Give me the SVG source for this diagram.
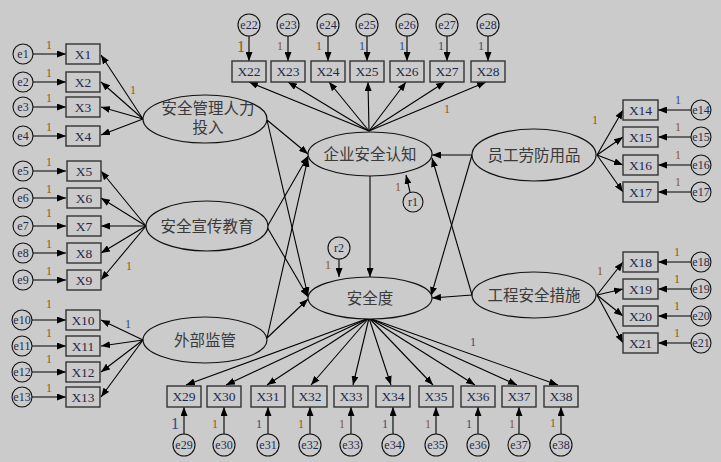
<svg xmlns="http://www.w3.org/2000/svg" width="721" height="462" viewBox="0 0 721 462">
<defs>
<marker id="ah" markerUnits="userSpaceOnUse" markerWidth="9" markerHeight="7" refX="9" refY="3.5" orient="auto"><path d="M0,0 L9,3.5 L0,7 z" fill="#000"/></marker>
<style>
.bx{fill:#cbcbcb;stroke:#333;stroke-width:1.4}
.ci{fill:#cbcbcb;stroke:#111;stroke-width:1.1}
.el{fill:#cbcbcb;stroke:#111;stroke-width:1.2}
.ln{stroke:#000;stroke-width:1.1;fill:none;marker-end:url(#ah)}
.t{font-family:"Liberation Serif","Noto Sans CJK SC",serif;font-size:13.5px;fill:#1e2a4a;text-anchor:middle}
.e{font-family:"Liberation Serif",serif;font-size:12px;fill:#1e2a4a;text-anchor:middle}
.c{font-family:"Liberation Serif","Noto Sans CJK SC",serif;font-size:15.5px;fill:#3a3a3a;text-anchor:middle}
.o{font-family:"Liberation Serif",serif;font-size:12px;fill:#8b5a14;text-anchor:middle}
.b{font-family:"Liberation Serif",serif;font-size:12px;fill:#2a4a8a;text-anchor:middle}
</style>
</defs>
<rect width="721" height="462" fill="#cbcbcb"/>
<g id="connectors">
<line class="ln" x1="33" y1="54" x2="66" y2="54"/><line class="ln" x1="33" y1="82" x2="66" y2="82"/><line class="ln" x1="33" y1="107" x2="66" y2="107"/><line class="ln" x1="33" y1="136" x2="66" y2="136"/>
<line class="ln" x1="33" y1="171" x2="66" y2="171"/><line class="ln" x1="33" y1="198" x2="66" y2="198"/><line class="ln" x1="33" y1="226" x2="66" y2="226"/><line class="ln" x1="33" y1="253" x2="66" y2="253"/><line class="ln" x1="33" y1="280" x2="66" y2="280"/>
<line class="ln" x1="32" y1="320" x2="66" y2="320"/><line class="ln" x1="32" y1="346" x2="66" y2="346"/><line class="ln" x1="32" y1="372" x2="66" y2="372"/><line class="ln" x1="32" y1="397" x2="66" y2="397"/>
<line class="ln" x1="143" y1="119" x2="101" y2="55"/><line class="ln" x1="143" y1="119" x2="101" y2="82"/><line class="ln" x1="143" y1="119" x2="101" y2="107"/><line class="ln" x1="143" y1="119" x2="101" y2="135"/>
<line class="ln" x1="146" y1="226" x2="101" y2="171"/><line class="ln" x1="146" y1="226" x2="101" y2="198"/><line class="ln" x1="146" y1="226" x2="101" y2="226"/><line class="ln" x1="146" y1="226" x2="101" y2="253"/><line class="ln" x1="146" y1="226" x2="101" y2="280"/>
<line class="ln" x1="143" y1="340" x2="101" y2="320"/><line class="ln" x1="143" y1="340" x2="101" y2="346"/><line class="ln" x1="143" y1="340" x2="101" y2="372"/><line class="ln" x1="143" y1="340" x2="101" y2="397"/>
<line class="ln" x1="249" y1="36" x2="249" y2="61"/><line class="ln" x1="288" y1="36" x2="288" y2="61"/><line class="ln" x1="328" y1="36" x2="328" y2="61"/><line class="ln" x1="367" y1="36" x2="367" y2="61"/><line class="ln" x1="407" y1="36" x2="407" y2="61"/><line class="ln" x1="447" y1="36" x2="447" y2="61"/><line class="ln" x1="488" y1="36" x2="488" y2="61"/>
<line class="ln" x1="369" y1="131" x2="249" y2="82"/><line class="ln" x1="369" y1="131" x2="288" y2="82"/><line class="ln" x1="369" y1="131" x2="329" y2="82"/><line class="ln" x1="369" y1="131" x2="368" y2="82"/><line class="ln" x1="369" y1="131" x2="406" y2="82"/><line class="ln" x1="369" y1="131" x2="445" y2="82"/><line class="ln" x1="369" y1="131" x2="486" y2="82"/>
<line class="ln" x1="691" y1="110" x2="658" y2="110"/><line class="ln" x1="691" y1="137" x2="658" y2="137"/><line class="ln" x1="691" y1="165" x2="658" y2="165"/><line class="ln" x1="691" y1="192" x2="658" y2="192"/>
<line class="ln" x1="691" y1="262" x2="658" y2="262"/><line class="ln" x1="691" y1="289" x2="658" y2="289"/><line class="ln" x1="691" y1="316" x2="658" y2="316"/><line class="ln" x1="691" y1="343" x2="658" y2="343"/>
<line class="ln" x1="597" y1="155" x2="623" y2="110"/><line class="ln" x1="597" y1="155" x2="623" y2="137"/><line class="ln" x1="597" y1="155" x2="623" y2="165"/><line class="ln" x1="597" y1="155" x2="623" y2="192"/>
<line class="ln" x1="597" y1="295" x2="623" y2="262"/><line class="ln" x1="597" y1="295" x2="623" y2="289"/><line class="ln" x1="597" y1="295" x2="623" y2="316"/><line class="ln" x1="597" y1="295" x2="623" y2="343"/>
<line class="ln" x1="184" y1="434" x2="184" y2="407"/><line class="ln" x1="224" y1="434" x2="224" y2="407"/><line class="ln" x1="268" y1="434" x2="268" y2="407"/><line class="ln" x1="310" y1="434" x2="310" y2="407"/><line class="ln" x1="351" y1="434" x2="351" y2="407"/><line class="ln" x1="393" y1="434" x2="393" y2="407"/><line class="ln" x1="436" y1="434" x2="436" y2="407"/><line class="ln" x1="478" y1="434" x2="478" y2="407"/><line class="ln" x1="519" y1="434" x2="519" y2="407"/><line class="ln" x1="561" y1="434" x2="561" y2="407"/>
<line class="ln" x1="369" y1="318" x2="186" y2="385"/><line class="ln" x1="369" y1="318" x2="226" y2="385"/><line class="ln" x1="369" y1="318" x2="267" y2="385"/><line class="ln" x1="369" y1="318" x2="311" y2="385"/><line class="ln" x1="369" y1="318" x2="353" y2="385"/><line class="ln" x1="369" y1="318" x2="391" y2="385"/><line class="ln" x1="369" y1="318" x2="433" y2="385"/><line class="ln" x1="369" y1="318" x2="475" y2="385"/><line class="ln" x1="369" y1="318" x2="517" y2="385"/><line class="ln" x1="369" y1="318" x2="558" y2="385"/>
<line class="ln" x1="267" y1="120" x2="308" y2="154"/><line class="ln" x1="267" y1="120" x2="308" y2="296"/>
<line class="ln" x1="267" y1="227" x2="308" y2="156"/><line class="ln" x1="267" y1="227" x2="308" y2="297"/>
<line class="ln" x1="267" y1="338" x2="308" y2="158"/><line class="ln" x1="267" y1="338" x2="308" y2="299"/>
<line class="ln" x1="472" y1="155" x2="432" y2="155"/><line class="ln" x1="472" y1="155" x2="431" y2="296"/>
<line class="ln" x1="472" y1="295" x2="432" y2="298"/><line class="ln" x1="472" y1="295" x2="432" y2="158"/>
<line class="ln" x1="370" y1="176" x2="370" y2="277"/>
<line class="ln" x1="410" y1="192" x2="406" y2="175"/>
<line class="ln" x1="339" y1="259" x2="339" y2="277"/>
</g>
<g id="labels1">
<text class="o" x="49" y="49">1</text><text class="o" x="49" y="77">1</text><text class="o" x="49" y="102">1</text><text class="o" x="49" y="131">1</text>
<text class="o" x="49" y="166">1</text><text class="o" x="49" y="193">1</text><text class="o" x="49" y="217">1</text><text class="o" x="49" y="248">1</text><text class="o" x="49" y="275">1</text>
<text class="o" x="49" y="308">1</text><text class="o" x="49" y="337">1</text><text class="o" x="49" y="363">1</text><text class="o" x="49" y="392">1</text>
<text class="o" x="133" y="94">1</text><text class="o" x="129" y="270">1</text><text class="b" x="128" y="328">1</text>
<text class="o" x="241" y="52" style="font-size:16px">1</text><text class="o" x="280" y="50">1</text><text class="o" x="319" y="50">1</text><text class="b" x="362" y="50">1</text><text class="b" x="402" y="50">1</text><text class="b" x="441" y="50">1</text><text class="b" x="481" y="50">1</text>
<text class="o" x="447" y="113">1</text>
<text class="b" x="678" y="104">1</text><text class="o" x="678" y="131">1</text><text class="o" x="678" y="159">1</text><text class="o" x="678" y="186">1</text>
<text class="o" x="677" y="256">1</text><text class="o" x="677" y="283">1</text><text class="o" x="677" y="310">1</text><text class="o" x="677" y="337">1</text>
<text class="o" x="595" y="124">1</text><text class="o" x="600" y="275">1</text><text class="b" x="473" y="346">1</text>
<text class="o" x="398" y="191">1</text><text class="o" x="328" y="269">1</text>
<text class="b" x="175" y="429" style="font-size:16px">1</text><text class="o" x="215" y="428">1</text><text class="b" x="259" y="428">1</text><text class="o" x="301" y="428">1</text><text class="o" x="342" y="428">1</text><text class="b" x="385" y="428">1</text><text class="o" x="428" y="428">1</text><text class="b" x="469" y="428">1</text><text class="o" x="512" y="428">1</text><text class="o" x="553" y="427">1</text>
</g>
<g id="F1"><ellipse class="el" cx="205" cy="119" rx="62" ry="24"/><text class="c" x="208" y="114">安全管理人力</text><text class="c" x="208" y="133">投入</text></g>
<g id="F2"><ellipse class="el" cx="207" cy="226" rx="61" ry="25"/><text class="c" x="207" y="232">安全宣传教育</text></g>
<g id="F3"><ellipse class="el" cx="205" cy="340" rx="62" ry="23"/><text class="c" x="205" y="346">外部监管</text></g>
<g id="F4"><ellipse class="el" cx="534" cy="155" rx="62" ry="26"/><text class="c" x="534" y="161">员工劳防用品</text></g>
<g id="F5"><ellipse class="el" cx="534" cy="295" rx="62" ry="23"/><text class="c" x="534" y="301">工程安全措施</text></g>
<g id="F6"><ellipse class="el" cx="370" cy="154" rx="62" ry="22"/><text class="c" x="370" y="160">企业安全认知</text></g>
<g id="F7"><ellipse class="el" cx="370" cy="298" rx="62" ry="21"/><text class="c" x="370" y="304">安全度</text></g>
<g id="r1"><circle class="ci" cx="413" cy="202" r="10"/><text class="e" x="413" y="206">r1</text></g>
<g id="r2"><circle class="ci" cx="339" cy="248" r="11"/><text class="e" x="339" y="252">r2</text></g>
<g id="left">
<g id="X1"><rect class="bx" x="66" y="44" width="34" height="20"/><text class="t" x="83" y="59">X1</text></g>
<g id="X2"><rect class="bx" x="66" y="72" width="34" height="20"/><text class="t" x="83" y="87">X2</text></g>
<g id="X3"><rect class="bx" x="66" y="97" width="34" height="20"/><text class="t" x="83" y="112">X3</text></g>
<g id="X4"><rect class="bx" x="66" y="126" width="34" height="20"/><text class="t" x="83" y="141">X4</text></g>
<g id="X5"><rect class="bx" x="67" y="161" width="34" height="20"/><text class="t" x="84" y="176">X5</text></g>
<g id="X6"><rect class="bx" x="67" y="188" width="34" height="20"/><text class="t" x="84" y="203">X6</text></g>
<g id="X7"><rect class="bx" x="67" y="216" width="34" height="20"/><text class="t" x="84" y="231">X7</text></g>
<g id="X8"><rect class="bx" x="67" y="243" width="34" height="20"/><text class="t" x="84" y="258">X8</text></g>
<g id="X9"><rect class="bx" x="67" y="270" width="34" height="20"/><text class="t" x="84" y="285">X9</text></g>
<g id="X10"><rect class="bx" x="66" y="310" width="34" height="20"/><text class="t" x="83" y="325">X10</text></g>
<g id="X11"><rect class="bx" x="66" y="336" width="34" height="20"/><text class="t" x="83" y="351">X11</text></g>
<g id="X12"><rect class="bx" x="66" y="362" width="34" height="20"/><text class="t" x="83" y="377">X12</text></g>
<g id="X13"><rect class="bx" x="66" y="387" width="34" height="20"/><text class="t" x="83" y="402">X13</text></g>
<g id="e1"><circle class="ci" cx="23" cy="54" r="10"/><text class="e" x="23" y="58">e1</text></g>
<g id="e2"><circle class="ci" cx="23" cy="82" r="10"/><text class="e" x="23" y="86">e2</text></g>
<g id="e3"><circle class="ci" cx="23" cy="107" r="10"/><text class="e" x="23" y="111">e3</text></g>
<g id="e4"><circle class="ci" cx="23" cy="136" r="10"/><text class="e" x="23" y="140">e4</text></g>
<g id="e5"><circle class="ci" cx="23" cy="171" r="10"/><text class="e" x="23" y="175">e5</text></g>
<g id="e6"><circle class="ci" cx="23" cy="198" r="10"/><text class="e" x="23" y="202">e6</text></g>
<g id="e7"><circle class="ci" cx="23" cy="226" r="10"/><text class="e" x="23" y="230">e7</text></g>
<g id="e8"><circle class="ci" cx="23" cy="253" r="10"/><text class="e" x="23" y="257">e8</text></g>
<g id="e9"><circle class="ci" cx="23" cy="280" r="10"/><text class="e" x="23" y="284">e9</text></g>
<g id="e10"><circle class="ci" cx="22" cy="320" r="10"/><text class="e" x="22" y="324">e10</text></g>
<g id="e11"><circle class="ci" cx="22" cy="346" r="10"/><text class="e" x="22" y="350">e11</text></g>
<g id="e12"><circle class="ci" cx="22" cy="372" r="10"/><text class="e" x="22" y="376">e12</text></g>
<g id="e13"><circle class="ci" cx="22" cy="397" r="10"/><text class="e" x="22" y="401">e13</text></g>
</g>
<g id="top">
<g id="X22"><rect class="bx" x="232" y="61" width="34" height="21"/><text class="t" x="249" y="76">X22</text></g>
<g id="X23"><rect class="bx" x="271" y="61" width="34" height="21"/><text class="t" x="288" y="76">X23</text></g>
<g id="X24"><rect class="bx" x="311" y="61" width="34" height="21"/><text class="t" x="328" y="76">X24</text></g>
<g id="X25"><rect class="bx" x="350" y="61" width="34" height="21"/><text class="t" x="367" y="76">X25</text></g>
<g id="X26"><rect class="bx" x="390" y="61" width="34" height="21"/><text class="t" x="407" y="76">X26</text></g>
<g id="X27"><rect class="bx" x="430" y="61" width="34" height="21"/><text class="t" x="447" y="76">X27</text></g>
<g id="X28"><rect class="bx" x="471" y="61" width="34" height="21"/><text class="t" x="488" y="76">X28</text></g>
<g id="e22"><circle class="ci" cx="249" cy="25" r="11"/><text class="e" x="249" y="29">e22</text></g>
<g id="e23"><circle class="ci" cx="288" cy="25" r="11"/><text class="e" x="288" y="29">e23</text></g>
<g id="e24"><circle class="ci" cx="328" cy="25" r="11"/><text class="e" x="328" y="29">e24</text></g>
<g id="e25"><circle class="ci" cx="367" cy="25" r="11"/><text class="e" x="367" y="29">e25</text></g>
<g id="e26"><circle class="ci" cx="407" cy="25" r="11"/><text class="e" x="407" y="29">e26</text></g>
<g id="e27"><circle class="ci" cx="447" cy="25" r="11"/><text class="e" x="447" y="29">e27</text></g>
<g id="e28"><circle class="ci" cx="488" cy="25" r="11"/><text class="e" x="488" y="29">e28</text></g>
</g>
<g id="right">
<g id="X14"><rect class="bx" x="623" y="100" width="35" height="20"/><text class="t" x="640.5" y="115">X14</text></g>
<g id="X15"><rect class="bx" x="623" y="127" width="35" height="20"/><text class="t" x="640.5" y="142">X15</text></g>
<g id="X16"><rect class="bx" x="623" y="155" width="35" height="20"/><text class="t" x="640.5" y="170">X16</text></g>
<g id="X17"><rect class="bx" x="623" y="182" width="35" height="20"/><text class="t" x="640.5" y="197">X17</text></g>
<g id="X18"><rect class="bx" x="623" y="252" width="35" height="20"/><text class="t" x="640.5" y="267">X18</text></g>
<g id="X19"><rect class="bx" x="623" y="279" width="35" height="20"/><text class="t" x="640.5" y="294">X19</text></g>
<g id="X20"><rect class="bx" x="623" y="306" width="35" height="20"/><text class="t" x="640.5" y="321">X20</text></g>
<g id="X21"><rect class="bx" x="623" y="333" width="35" height="20"/><text class="t" x="640.5" y="348">X21</text></g>
<g id="e14"><circle class="ci" cx="701" cy="110" r="10"/><text class="e" x="701" y="114">e14</text></g>
<g id="e15"><circle class="ci" cx="701" cy="137" r="10"/><text class="e" x="701" y="141">e15</text></g>
<g id="e16"><circle class="ci" cx="701" cy="165" r="10"/><text class="e" x="701" y="169">e16</text></g>
<g id="e17"><circle class="ci" cx="701" cy="192" r="10"/><text class="e" x="701" y="196">e17</text></g>
<g id="e18"><circle class="ci" cx="701" cy="262" r="10"/><text class="e" x="701" y="266">e18</text></g>
<g id="e19"><circle class="ci" cx="701" cy="289" r="10"/><text class="e" x="701" y="293">e19</text></g>
<g id="e20"><circle class="ci" cx="701" cy="316" r="10"/><text class="e" x="701" y="320">e20</text></g>
<g id="e21"><circle class="ci" cx="701" cy="343" r="10"/><text class="e" x="701" y="347">e21</text></g>
</g>
<g id="bottom">
<g id="X29"><rect class="bx" x="167" y="386" width="34" height="21"/><text class="t" x="184" y="401">X29</text></g>
<g id="X30"><rect class="bx" x="207" y="386" width="34" height="21"/><text class="t" x="224" y="401">X30</text></g>
<g id="X31"><rect class="bx" x="251" y="386" width="34" height="21"/><text class="t" x="268" y="401">X31</text></g>
<g id="X32"><rect class="bx" x="293" y="386" width="34" height="21"/><text class="t" x="310" y="401">X32</text></g>
<g id="X33"><rect class="bx" x="334" y="386" width="34" height="21"/><text class="t" x="351" y="401">X33</text></g>
<g id="X34"><rect class="bx" x="376" y="386" width="34" height="21"/><text class="t" x="393" y="401">X34</text></g>
<g id="X35"><rect class="bx" x="419" y="386" width="34" height="21"/><text class="t" x="436" y="401">X35</text></g>
<g id="X36"><rect class="bx" x="461" y="386" width="34" height="21"/><text class="t" x="478" y="401">X36</text></g>
<g id="X37"><rect class="bx" x="502" y="386" width="34" height="21"/><text class="t" x="519" y="401">X37</text></g>
<g id="X38"><rect class="bx" x="544" y="386" width="34" height="21"/><text class="t" x="561" y="401">X38</text></g>
<g id="e29"><circle class="ci" cx="184" cy="445" r="11"/><text class="e" x="184" y="449">e29</text></g>
<g id="e30"><circle class="ci" cx="224" cy="445" r="11"/><text class="e" x="224" y="449">e30</text></g>
<g id="e31"><circle class="ci" cx="268" cy="445" r="11"/><text class="e" x="268" y="449">e31</text></g>
<g id="e32"><circle class="ci" cx="310" cy="445" r="11"/><text class="e" x="310" y="449">e32</text></g>
<g id="e33"><circle class="ci" cx="351" cy="445" r="11"/><text class="e" x="351" y="449">e33</text></g>
<g id="e34"><circle class="ci" cx="393" cy="445" r="11"/><text class="e" x="393" y="449">e34</text></g>
<g id="e35"><circle class="ci" cx="436" cy="445" r="11"/><text class="e" x="436" y="449">e35</text></g>
<g id="e36"><circle class="ci" cx="478" cy="445" r="11"/><text class="e" x="478" y="449">e36</text></g>
<g id="e37"><circle class="ci" cx="519" cy="445" r="11"/><text class="e" x="519" y="449">e37</text></g>
<g id="e38"><circle class="ci" cx="561" cy="445" r="11"/><text class="e" x="561" y="449">e38</text></g>
</g>
</svg>
